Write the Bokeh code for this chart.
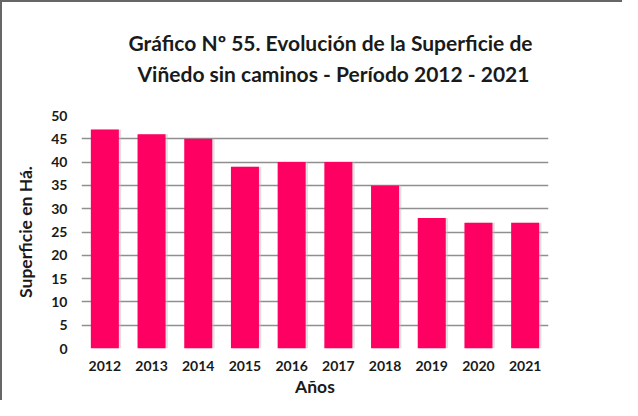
from bokeh.plotting import figure
from bokeh.models import Title, Range1d
from bokeh.transform import dodge
from bokeh.embed import file_html
from bokeh.resources import INLINE

years = ["2012", "2013", "2014", "2015", "2016", "2017", "2018", "2019", "2020", "2021"]
values = [47, 46, 45, 39, 40, 40, 35, 28, 27, 27]
y_ticks = [0, 5, 10, 15, 20, 25, 30, 35, 40, 45, 50]
title_lines = ["Gráfico Nº 55. Evolución de la Superficie de",
               "Viñedo sin caminos - Período 2012 - 2021"]

FONT = "Lato"
FRAME_W, FRAME_H = 467, 233
LEFT, TOP = 79, 113

p = figure(x_range=years, y_range=Range1d(0, 50), width=620, height=398,
           frame_width=FRAME_W, frame_height=FRAME_H,
           output_backend="svg", toolbar_location=None,
           min_border_left=LEFT, min_border_right=620 - LEFT - FRAME_W,
           min_border_top=TOP, min_border_bottom=398 - TOP - FRAME_H)
p.outline_line_color = None
p.background_fill_color = "white"
p.border_fill_color = "white"

src = dict(years=years, values=values)
p.vbar(x=dodge("years", 0.05, range=p.x_range), top="values", width=0.6, source=src,
       fill_color="#bdbdbd", fill_alpha=0.45, line_color=None)
p.vbar(x="years", top="values", width=0.6, source=src, fill_color="#FE0062", line_color=None)

p.xgrid.grid_line_color = None
p.ygrid.grid_line_color = "#8f8f8f"
p.ygrid.grid_line_width = 1.6
p.yaxis.ticker = y_ticks

for ax in (p.xaxis, p.yaxis):
    ax.axis_line_color = None
    ax.major_tick_line_color = None
    ax.minor_tick_line_color = None
    ax.major_tick_out = 0
    ax.minor_tick_out = 0
    ax.major_label_text_font = FONT
    ax.major_label_text_font_style = "bold"
    ax.major_label_text_font_size = "14px"
    ax.major_label_text_color = "#1a1a1a"
    ax.axis_label_text_font = FONT
    ax.axis_label_text_font_style = "bold"
    ax.axis_label_text_color = "#1a1a1a"

p.yaxis.major_label_standoff = 14
p.xaxis.major_label_standoff = 12
p.xaxis.axis_label = "Años"
p.xaxis.axis_label_text_font_size = "17.5px"
p.xaxis.axis_label_standoff = 2
p.yaxis.axis_label = "Superficie en Há."
p.yaxis.axis_label_text_font_size = "17.5px"
p.yaxis.axis_label_standoff = 12

# title: two lines, nearest-to-frame first (blank line pads the second row)
texts = [title_lines[0], title_lines[1] + "\n "]
offsets = [47, 56]
standoffs = [0, 9]
for line, off, so in reversed(list(zip(texts, offsets, standoffs))):
    p.add_layout(Title(text=line, align="left", offset=off, standoff=so,
                       text_font=FONT, text_font_style="bold", text_font_size="21px",
                       text_color="#1a1a1a"), "above")

p.styles = {"border-left": "2px solid #666666", "border-top": "2px solid #666666",
            "box-sizing": "content-box"}

open("out.html", "w").write(file_html(p, INLINE))
